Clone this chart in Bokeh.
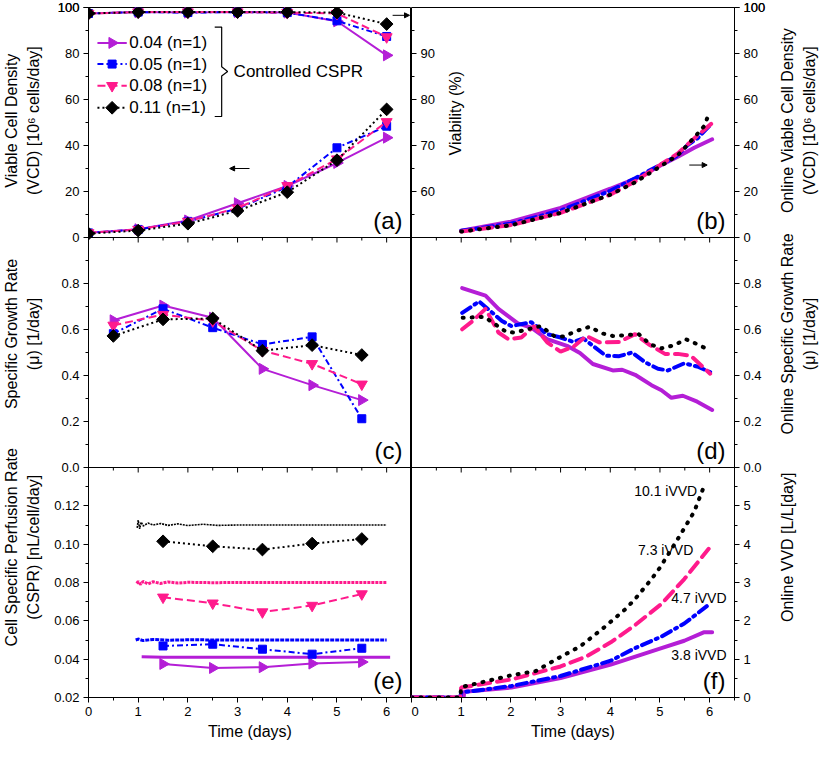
import math
from bokeh.plotting import figure
from bokeh.models import (Range1d, FixedTicker, Arrow, NormalHead, Span,
                          CustomJSTickFormatter)
from bokeh.layouts import row
from bokeh.embed import file_html
from bokeh.resources import INLINE
from bokeh.core.properties import value

FONT = "Liberation Sans"

# ---------------- data ----------------
series = ["0.04 (n=1)", "0.05 (n=1)", "0.08 (n=1)", "0.11 (n=1)"]
colors = ["#B41ED6", "#0000FF", "#FF1A8C", "#000000"]
markers = ["triangle", "square", "inverted_triangle", "square"]
marker_angles = [-math.pi / 2, 0.0, 0.0, math.pi / 4]
marker_sizes = [11, 8, 11, 9]
dash_off = ["solid", "6 3 2 3", "8 4", "2 3"]
dash_on = ["solid", "10 5 2 5", "12 7", "1 8"]

day_off = [0, 1, 2, 3, 4, 5, 6]
vcd_004 = [2.1, 3.6, 7.4, 14.9, 22.4, 32.4, 43.4]
vcd_005 = [2.0, 3.5, 7.0, 12.5, 22.0, 39.0, 48.4]
vcd_008 = [2.0, 3.5, 7.0, 12.8, 22.5, 34.1, 50.3]
vcd_011 = [1.7, 3.0, 6.0, 11.6, 19.7, 33.6, 55.7]
via_004 = [98.7, 99.0, 98.9, 99.0, 98.9, 97.0, 89.6]
via_005 = [98.7, 99.0, 98.9, 99.0, 98.9, 97.1, 93.7]
via_008 = [98.7, 99.0, 99.0, 99.0, 98.9, 98.7, 93.6]
via_011 = [98.7, 99.0, 99.0, 99.0, 99.0, 98.9, 96.4]

day_mid = [0.5, 1.5, 2.5, 3.5, 4.5, 5.5]
mu_004 = [0.640, 0.704, 0.651, 0.429, 0.358, 0.293]
mu_005 = [0.582, 0.690, 0.608, 0.535, 0.568, 0.212]
mu_008 = [0.618, 0.665, 0.637, 0.508, 0.451, 0.362]
mu_011 = [0.572, 0.644, 0.648, 0.508, 0.532, 0.489]

cspr_day = [1.5, 2.5, 3.5, 4.5, 5.5]
cspr_004 = [0.0375, 0.0354, 0.0358, 0.0377, 0.0385]
cspr_005 = [0.0469, 0.0478, 0.0452, 0.0426, 0.0457]
cspr_008 = [0.0723, 0.0692, 0.0646, 0.0680, 0.0740]
cspr_011 = [0.1015, 0.0989, 0.0972, 0.1003, 0.1027]

# online set-point CSPR traces (e)
sp_x_004 = [1.07, 1.5, 2.0, 3.0, 4.0, 5.0, 6.07]
sp_y_004 = [0.0412, 0.0410, 0.0410, 0.0410, 0.0410, 0.0410, 0.0410]
sp_x_005 = [0.95, 1.0, 1.1, 1.3, 1.6, 2.0, 3.0, 4.0, 5.0, 6.0]
sp_y_005 = [0.0500, 0.0505, 0.0497, 0.0503, 0.0499, 0.0501, 0.0500, 0.0500, 0.0500, 0.0500]
sp_x_008 = [0.97, 1.0, 1.05, 1.1, 1.2, 1.3, 1.45, 1.6, 1.8, 2.0, 2.5, 3.0, 6.0]
sp_y_008 = [0.0795, 0.0805, 0.0790, 0.0806, 0.0792, 0.0804, 0.0795, 0.0803, 0.0797, 0.0801, 0.0799, 0.0800, 0.0800]
sp_x_011 = [0.98, 1.0, 1.03, 1.06, 1.1, 1.2, 1.3, 1.45, 1.6, 1.8, 2.0, 2.3, 2.6, 3.0, 6.0]
sp_y_011 = [0.1085, 0.1125, 0.1080, 0.1115, 0.1095, 0.1110, 0.1100, 0.1108, 0.1098, 0.1106, 0.1097, 0.1104, 0.1098, 0.1100, 0.1100]

# online VCD (b)
ovcd_x_004 = [1.0, 2.0, 3.0, 4.0, 4.57, 5.0, 5.36, 5.69, 6.05]
ovcd_y_004 = [2.9, 6.9, 12.9, 21.2, 26.1, 31.2, 35.1, 39.0, 42.7]
ovcd_x_005 = [1.0, 2.0, 3.0, 4.0, 4.5, 5.0, 5.36, 5.55, 5.75, 6.02]
ovcd_y_005 = [2.9, 6.0, 11.7, 20.3, 25.8, 31.5, 35.8, 40.1, 43.0, 49.1]
ovcd_x_008 = [1.0, 2.0, 3.0, 4.0, 4.5, 5.0, 5.36, 5.7, 6.03]
ovcd_y_008 = [2.6, 5.4, 10.7, 18.6, 24.4, 31.5, 36.5, 43.3, 49.4]
ovcd_x_011 = [1.0, 2.0, 3.0, 4.0, 4.5, 5.0, 5.36, 5.7, 5.9, 5.98]
ovcd_y_011 = [2.6, 5.3, 10.7, 18.6, 24.0, 30.8, 35.8, 43.7, 48.7, 53.7]

# online specific growth rate (d)
omu_x_004 = [1.02, 1.49, 1.75, 2.14, 2.41, 2.73, 3.13, 3.39, 3.65, 4.05, 4.24, 4.5, 4.83, 5.03, 5.23, 5.46, 5.75, 6.05]
omu_y_004 = [0.780, 0.747, 0.690, 0.627, 0.608, 0.558, 0.529, 0.498, 0.450, 0.422, 0.425, 0.403, 0.358, 0.336, 0.303, 0.312, 0.286, 0.250]
omu_x_005 = [1.02, 1.36, 1.55, 1.82, 2.01, 2.41, 2.73, 3.0, 3.26, 3.46, 3.65, 3.91, 4.18, 4.44, 4.70, 4.96, 5.16, 5.49, 5.75, 6.01]
omu_y_005 = [0.672, 0.722, 0.687, 0.637, 0.615, 0.632, 0.580, 0.565, 0.546, 0.561, 0.529, 0.486, 0.484, 0.500, 0.458, 0.429, 0.422, 0.453, 0.439, 0.415]
omu_x_008 = [1.02, 1.23, 1.49, 1.75, 1.95, 2.21, 2.47, 2.73, 3.0, 3.26, 3.52, 3.78, 4.18, 4.50, 4.77, 5.10, 5.36, 5.62, 6.01]
omu_y_008 = [0.601, 0.637, 0.690, 0.587, 0.558, 0.565, 0.615, 0.544, 0.504, 0.525, 0.572, 0.544, 0.546, 0.580, 0.536, 0.494, 0.494, 0.486, 0.408]
omu_x_011 = [1.03, 1.46, 1.69, 1.91, 2.08, 2.34, 2.60, 2.87, 3.06, 3.32, 3.59, 3.82, 4.05, 4.31, 4.57, 4.80, 5.03, 5.29, 5.52, 5.75, 5.98]
omu_y_011 = [0.651, 0.655, 0.622, 0.589, 0.587, 0.601, 0.615, 0.572, 0.569, 0.594, 0.612, 0.584, 0.572, 0.575, 0.580, 0.536, 0.518, 0.532, 0.558, 0.536, 0.512]

# online VVD (f)
vvd_x_004 = [0.0, 1.05, 1.06, 2.01, 3.0, 4.01, 5.03, 5.49, 5.88, 6.05]
vvd_y_004 = [0.0, 0.0, 0.15, 0.26, 0.51, 0.86, 1.29, 1.48, 1.70, 1.70]
vvd_x_005 = [0.0, 0.98, 1.0, 2.01, 3.0, 4.01, 4.5, 5.03, 5.49, 5.98]
vvd_y_005 = [0.0, 0.0, 0.13, 0.30, 0.56, 0.96, 1.29, 1.59, 1.93, 2.42]
vvd_x_008 = [0.0, 0.98, 1.0, 2.01, 3.0, 3.52, 4.01, 4.5, 5.03, 5.49, 5.98]
vvd_y_008 = [0.0, 0.0, 0.26, 0.47, 0.81, 1.07, 1.44, 1.89, 2.44, 3.09, 3.88]
vvd_x_011 = [0.0, 0.98, 1.0, 2.01, 2.5, 2.96, 3.39, 3.85, 4.31, 4.5, 4.83, 5.0, 5.39, 5.69, 5.91]
vvd_y_011 = [0.0, 0.0, 0.27, 0.58, 0.69, 1.03, 1.33, 1.80, 2.31, 2.57, 3.09, 3.39, 4.20, 4.85, 5.59]
ivvd_labels = ["3.8 iVVD", "4.7 iVVD", "7.3 iVVD", "10.1 iVVD"]
ivvd_label_x = [6.34, 6.34, 5.67, 5.75]
ivvd_label_y = [1.10, 2.59, 3.84, 5.40]

# axis scales of each panel
a_ticks = [0, 20, 40, 60, 80, 100]
a_minor = [10, 30, 50, 70, 90]
c_ticks = [0.0, 0.2, 0.4, 0.6, 0.8]
c_minor = [0.1, 0.3, 0.5, 0.7, 0.9]
e_ticks = [0.02, 0.04, 0.06, 0.08, 0.10, 0.12]
e_minor = [0.03, 0.05, 0.07, 0.09, 0.11, 0.13]
f_ticks = [0, 1, 2, 3, 4, 5]
f_minor = [0.5, 1.5, 2.5, 3.5, 4.5, 5.5]
via_ticks = [60, 70, 80, 90]
via_minor = [55, 65, 75, 85, 95]
x_major = [0, 1, 2, 3, 4, 5, 6]
x_minor = [0.5, 1.5, 2.5, 3.5, 4.5, 5.5, 6.5]

vcd_all = [vcd_004, vcd_005, vcd_008, vcd_011]
via_all = [via_004, via_005, via_008, via_011]
mu_all = [mu_004, mu_005, mu_008, mu_011]
cspr_all = [cspr_004, cspr_005, cspr_008, cspr_011]
sp_all = [(sp_x_004, sp_y_004), (sp_x_005, sp_y_005), (sp_x_008, sp_y_008), (sp_x_011, sp_y_011)]
ovcd_all = [(ovcd_x_004, ovcd_y_004), (ovcd_x_005, ovcd_y_005), (ovcd_x_008, ovcd_y_008), (ovcd_x_011, ovcd_y_011)]
omu_all = [(omu_x_004, omu_y_004), (omu_x_005, omu_y_005), (omu_x_008, omu_y_008), (omu_x_011, omu_y_011)]
vvd_all = [(vvd_x_004, vvd_y_004), (vvd_x_005, vvd_y_005), (vvd_x_008, vvd_y_008), (vvd_x_011, vvd_y_011)]

# ---------------- layout ----------------
FW, FH = 323, 230          # one panel's frame
TB, BB = 7, 47
H = TB + 3 * FH + BB
TL, LB, RB, TR = 44, 44, 40, 47
TICK_FS = "13px"
TITLE_FS = "16px"


def txt_kw(size):
    return dict(text_font=value(FONT), text_font_size=value(size), text_color="black")


def panel_range(lo, hi, slot):
    # slot 0 = bottom panel, 1 = middle, 2 = top; the column frame is three panels high
    span = hi - lo
    return Range1d(lo - slot * span, hi + (2 - slot) * span)


def to_main(v, lo, hi, slot):
    return slot + (v - lo) / (hi - lo)


def style_axis(ax):
    ax.axis_line_color = "black"
    ax.major_tick_out = 5
    ax.major_tick_in = 0
    ax.minor_tick_out = 3
    ax.minor_tick_in = 0
    ax.major_tick_line_color = "black"
    ax.minor_tick_line_color = "black"
    ax.major_label_text_font = FONT
    ax.major_label_text_font_size = TICK_FS
    ax.major_label_text_color = "black"
    ax.axis_label_text_font = FONT
    ax.axis_label_text_font_size = TITLE_FS
    ax.axis_label_text_font_style = "normal"
    ax.axis_label_text_color = "black"
    ax.major_label_standoff = 4
    ax.axis_label_standoff = 4


FMT_CODE = """
let best = 0;
for (let i = 0; i < pos.length; i++) {
  if (Math.abs(pos[i] - tick) < Math.abs(pos[best] - tick)) { best = i; }
}
return lab[best];
"""


def make_column(right, panels):
    # panels: list of (ticks, minor, lo, hi, label format) from bottom to top
    p = figure(width=FW + (RB if right else LB), height=H,
               x_range=Range1d(0, 6.5), y_range=Range1d(0, 3),
               output_backend="svg", toolbar_location=None, tools="",
               x_axis_location="below",
               y_axis_location="right" if right else "left",
               min_border_left=0 if right else LB,
               min_border_right=RB if right else 0,
               min_border_top=TB, min_border_bottom=BB)
    p.grid.visible = False
    p.outline_line_color = "black"
    p.outline_line_width = 1
    p.background_fill_color = "white"
    p.border_fill_color = "white"
    for ax in p.axis:
        style_axis(ax)
    p.xaxis.ticker = FixedTicker(ticks=x_major, minor_ticks=x_minor)
    p.xaxis.axis_label = "Time (days)"
    pos, lab, minor = [], [], []
    for slot, (ticks, mticks, lo, hi, fmt) in enumerate(panels):
        for t in ticks:
            m = to_main(t, lo, hi, slot)
            if any(abs(m - q) < 1e-9 for q in pos):
                continue
            pos.append(m)
            lab.append(fmt.format(t))
        minor += [to_main(t, lo, hi, slot) for t in mticks]
    pos.append(3.0)
    lab.append(panels[2][4].format(panels[2][3]))
    p.yaxis.ticker = FixedTicker(ticks=pos, minor_ticks=minor)
    p.yaxis.formatter = CustomJSTickFormatter(args=dict(pos=pos, lab=lab), code=FMT_CODE)
    # panel separators and the x ticks of the upper panels
    for b in [1, 2]:
        p.add_layout(Span(location=b, dimension="width", line_color="black", line_width=1))
        p.ray(x=x_major, y=[b] * len(x_major), length=5, length_units="screen",
              angle=-math.pi / 2, line_color="black", line_width=1)
        p.ray(x=x_minor, y=[b] * len(x_minor), length=3, length_units="screen",
              angle=-math.pi / 2, line_color="black", line_width=1)
    return p


def panel_label(p, txt, slot):
    p.text(x=[6.5], y=[slot], text=[txt], x_offset=-9, y_offset=-4,
           text_align="right", text_baseline="bottom", **txt_kw("24px"))


# ---------- left column: (a) top, (c) middle, (e) bottom ----------
L = make_column(False, [
    (e_ticks, e_minor, 0.02, 0.14, "{:.2f}"),
    (c_ticks, c_minor, 0.0, 1.0, "{:.1f}"),
    (a_ticks, a_minor, 0, 100, "{:d}"),
])
L.extra_y_ranges = {
    "a": panel_range(0, 100, 2),
    "a_via": panel_range(50, 100, 2),
    "c": panel_range(0, 1.0, 1),
    "e": panel_range(0.02, 0.14, 0),
}

# (a)
for i in range(4):
    L.line(day_off, vcd_all[i], line_color=colors[i], line_width=2, line_dash=dash_off[i], y_range_name="a")
    L.scatter(day_off, vcd_all[i], marker=markers[i], angle=marker_angles[i], size=marker_sizes[i],
              fill_color=colors[i], line_color=colors[i], y_range_name="a")
    L.line(day_off, via_all[i], line_color=colors[i], line_width=2, line_dash=dash_off[i], y_range_name="a_via")
    L.scatter(day_off, via_all[i], marker=markers[i], angle=marker_angles[i], size=marker_sizes[i],
              fill_color=colors[i], line_color=colors[i], y_range_name="a_via")
leg_rows = [84.6, 75.4, 66.0, 56.4]
for i in range(4):
    L.segment(x0=[0.18], y0=[leg_rows[i]], x1=[0.77], y1=[leg_rows[i]], line_color=colors[i],
              line_width=2, line_dash=dash_off[i], y_range_name="a")
    L.scatter([0.475], [leg_rows[i]], marker=markers[i], angle=marker_angles[i], size=marker_sizes[i],
              fill_color=colors[i], line_color=colors[i], y_range_name="a")
    L.text(x=[0.82], y=[leg_rows[i]], text=[series[i]], text_baseline="middle", text_align="left",
           y_range_name="a", **txt_kw("17px"))
L.line([2.54, 2.68, 2.68, 2.80, 2.68, 2.68, 2.54], [91.5, 91.5, 74.2, 72.2, 70.2, 52.6, 52.6],
       line_color="black", line_width=1.2, y_range_name="a")
L.text(x=[2.92], y=[72.2], text=["Controlled CSPR"], text_baseline="middle", text_align="left",
       y_range_name="a", **txt_kw("17px"))
L.add_layout(Arrow(x_start=3.24, y_start=30, x_end=2.84, y_end=30, line_width=1, y_range_name="a",
                   end=NormalHead(size=5, fill_color="black", line_color="black")))
L.add_layout(Arrow(x_start=6.12, y_start=96.6, x_end=6.46, y_end=96.6, line_width=1, y_range_name="a",
                   end=NormalHead(size=5, fill_color="black", line_color="black")))
panel_label(L, "(a)", 2)

# (c)
for i in range(4):
    L.line(day_mid, mu_all[i], line_color=colors[i], line_width=2, line_dash=dash_off[i], y_range_name="c")
    L.scatter(day_mid, mu_all[i], marker=markers[i], angle=marker_angles[i], size=marker_sizes[i],
              fill_color=colors[i], line_color=colors[i], y_range_name="c")
panel_label(L, "(c)", 1)

# (e)
sp_dash = ["solid", "4 1", "3 1", "2 1"]
sp_width = [3, 3, 3, 1.6]
for i in range(4):
    xs, ys = sp_all[i]
    L.line(xs, ys, line_color=colors[i], line_width=sp_width[i], line_dash=sp_dash[i], y_range_name="e")
    L.line(cspr_day, cspr_all[i], line_color=colors[i], line_width=2, line_dash=dash_off[i], y_range_name="e")
    L.scatter(cspr_day, cspr_all[i], marker=markers[i], angle=marker_angles[i], size=marker_sizes[i],
              fill_color=colors[i], line_color=colors[i], y_range_name="e")
panel_label(L, "(e)", 0)

# ---------- right column: (b) top, (d) middle, (f) bottom ----------
R = make_column(True, [
    (f_ticks, f_minor, 0, 6, "{:d}"),
    (c_ticks, c_minor, 0.0, 1.0, "{:.1f}"),
    (a_ticks, a_minor, 0, 100, "{:d}"),
])
R.extra_y_ranges = {
    "b": panel_range(0, 100, 2),
    "b_via": panel_range(50, 100, 2),
    "d": panel_range(0, 1.0, 1),
    "f": panel_range(0, 6, 0),
}

# (b)
for i in range(4):
    xs, ys = ovcd_all[i]
    R.line(xs, ys, line_color=colors[i], line_width=4, line_dash=dash_on[i], line_cap="round", y_range_name="b")
R.ray(x=[0] * (len(via_ticks) + 2), y=[50] + via_ticks + [100], length=5, length_units="screen", angle=0,
      line_color="black", line_width=1, y_range_name="b_via")
R.ray(x=[0] * len(via_minor), y=via_minor, length=3, length_units="screen", angle=0,
      line_color="black", line_width=1, y_range_name="b_via")
R.text(x=[0] * len(via_ticks), y=via_ticks, text=[str(v) for v in via_ticks], x_offset=9,
       text_baseline="middle", text_align="left", y_range_name="b_via", **txt_kw(TICK_FS))
R.text(x=[0], y=[77], text=["Viability (%)"], x_offset=44, angle=math.pi / 2, text_align="center",
       text_baseline="middle", y_range_name="b_via", **txt_kw(TITLE_FS))
R.add_layout(Arrow(x_start=5.59, y_start=31.5, x_end=5.95, y_end=31.5, line_width=1, y_range_name="b",
                   end=NormalHead(size=5, fill_color="black", line_color="black")))
panel_label(R, "(b)", 2)

# (d)
for i in range(4):
    xs, ys = omu_all[i]
    R.line(xs, ys, line_color=colors[i], line_width=4, line_dash=dash_on[i], line_cap="round", y_range_name="d")
panel_label(R, "(d)", 1)

# (f)
for i in range(4):
    xs, ys = vvd_all[i]
    R.line(xs, ys, line_color=colors[i], line_width=4, line_dash=dash_on[i], line_cap="round", y_range_name="f")
R.text(x=ivvd_label_x, y=ivvd_label_y, text=ivvd_labels, text_align="right", text_baseline="middle",
       y_range_name="f", **txt_kw("14px"))
panel_label(R, "(f)", 0)


# ---------- axis titles (rotated, reading bottom to top) ----------
def title_strip(width, titles, xs):
    t = figure(width=width, height=H, x_range=Range1d(0, width), y_range=Range1d(0, H),
               output_backend="svg", toolbar_location=None, tools="",
               x_axis_location=None, y_axis_location=None, min_border=0)
    t.grid.visible = False
    t.outline_line_color = None
    t.background_fill_color = "white"
    t.border_fill_color = "white"
    for slot, lines in enumerate(titles):
        ymid = BB + FH * slot + FH / 2
        for k, ln in enumerate(lines):
            t.text(x=[xs[k]], y=[ymid], text=[ln], angle=math.pi / 2, text_align="center",
                   text_baseline="middle", **txt_kw(TITLE_FS))
    return t


TLs = title_strip(TL, [
    ["Cell Specific Perfusion Rate", "(CSPR) [nL/cell/day]"],
    ["Specific Growth Rate", "(\u03bc) [1/day]"],
    ["Viable Cell Density", "(VCD) [10\u2076 cells/day]"],
], [11, 33])
TRs = title_strip(TR, [
    ["Online VVD [L/L[day]"],
    ["Online Specific Growth Rate", "(\u03bc) [1/day]"],
    ["Online Viable Cell Density", "(VCD) [10\u2076 cells/day]"],
], [13, 35])

layout = row(TLs, L, R, TRs)

with open("out.html", "w") as f:
    f.write(file_html(layout, INLINE))
